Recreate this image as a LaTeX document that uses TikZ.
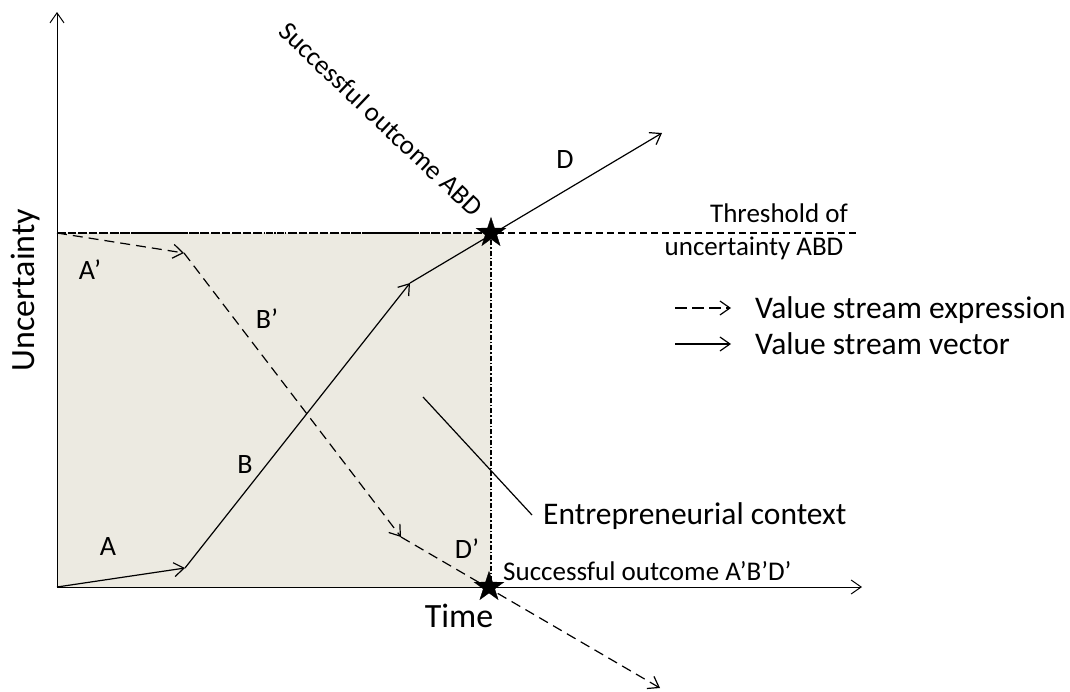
\documentclass[tikz,border=0pt]{standalone}
\usepackage{fontspec}
\setmainfont{Carlito}
\usetikzlibrary{arrows.meta,shapes.geometric}
\definecolor{ctxfill}{HTML}{ECEAE1}
\tikzset{
  tip/.style={-{Straight Barb[length=10pt,width=14pt]}},
  axis/.style={line width=1pt,tip},
  vec/.style={line width=1.2pt,tip},
  expr/.style={line width=1.2pt,dash pattern=on 10pt off 6pt,tip},
  border/.style={line width=1.2pt,dash pattern=on 5pt off 2pt on 1.5pt off 2pt},
  thresh/.style={line width=1.2pt,dash pattern=on 7pt off 4pt},
  outcome/.style={star,star points=5,star point ratio=2.6,fill=black,draw=black,inner sep=0pt,minimum size=31pt},
  lbl/.style={font=\fontsize{28}{32}\selectfont,inner sep=0pt,anchor=base},
  big/.style={font=\fontsize{34}{38}\selectfont,inner sep=0pt,anchor=base},
  mid/.style={font=\fontsize{31.5}{36}\selectfont,inner sep=0pt,anchor=base west},
  small/.style={font=\fontsize{27}{31}\selectfont,inner sep=0pt},
}
\begin{document}
\begin{tikzpicture}[x=1pt,y=-1pt]
\useasboundingbox (0,0) rectangle (1070,691);
% shaded context region
\fill[ctxfill] (57,233) rectangle (491,587);
% axes
\coordinate (O) at (57,587);
\coordinate (ytop) at (57,12);
\coordinate (xend) at (862,587);
\draw[axis] (O) -- (ytop);
\draw[axis] (O) -- (xend);
% region border and threshold line
\coordinate (tl) at (57,233);
\coordinate (tr) at (491,233);
\coordinate (br) at (491,587);
\coordinate (thr) at (858,233);
\draw[border] (tl) -- (tr) -- (br);
\draw[thresh] (tl) -- (thr);
% value stream vector A, B, D
\coordinate (a1) at (185,568);
\coordinate (b1) at (410,283);
\coordinate (d1) at (662,133);
\draw[vec] (O) -- (a1);
\draw[vec] (a1) -- (b1);
\draw[vec] (b1) -- (d1);
% value stream expression A', B', D'
\coordinate (a2) at (184,253);
\coordinate (b2) at (401,537);
\coordinate (d2) at (660,688);
\draw[expr] (tl) -- (a2);
\draw[expr] (a2) -- (b2);
\draw[expr] (b2) -- (d2);
% outcomes
\node[outcome] (sABD) at (491,233) {};
\node[outcome] (sAp) at (489,587) {};
% segment labels
\node[lbl] (lA) at (108,555) {A};
\node[lbl] (lB) at (245,473) {B};
\node[lbl] (lD) at (565,168) {D};
\node[lbl] (lAp) at (90,279) {A’};
\node[lbl] (lBp) at (267,328) {B’};
\node[lbl] (lDp) at (467,558) {D’};
% axis titles
\node[big,rotate=90] (ty) at (34,290) {Uncertainty};
\node[big] (tx) at (459,627) {Time};
% annotations
\node[small,rotate=-43.5] (tABD) at (381,119) {Successful outcome ABD};
\node[small,anchor=base west] (tApBD) at (503,580) {Successful outcome A’B’D’};
\node[small,anchor=base] (th1) at (779,222) {Threshold of};
\node[small,anchor=base] (th2) at (754,255) {uncertainty ABD};
\node[mid] (ctx) at (543,524) {Entrepreneurial context};
\coordinate (cp) at (423,397);
\coordinate (cq) at (532,515);
\draw[line width=1.2pt] (cp) -- (cq);
% legend
\coordinate (le1) at (675,308);
\coordinate (le2) at (731,308);
\coordinate (lv1) at (675,344);
\coordinate (lv2) at (731,344);
\draw[expr,dash pattern=on 12pt off 5pt] (le1) -- (le2);
\draw[vec] (lv1) -- (lv2);
\node[mid] (lgE) at (755,318) {Value stream expression};
\node[mid] (lgV) at (755,354) {Value stream vector};
\end{tikzpicture}
\end{document}
